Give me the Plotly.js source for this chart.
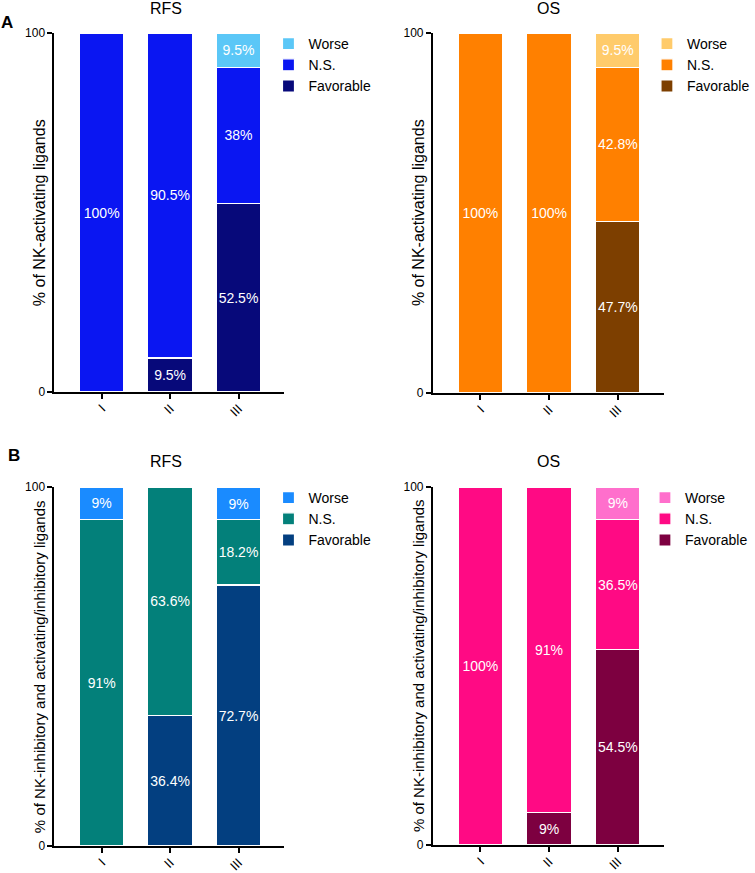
<!DOCTYPE html>
<html>
<head>
<meta charset="utf-8">
<script src="https://cdn.plot.ly/plotly-3.0.1.min.js"></script>
<style>html,body{margin:0;padding:0;background:#fff;}#chart{width:755px;height:873px;}</style>
</head>
<body>
<div id="chart"></div>
<script>
// ---- data ----
const categories = ['I', 'II', 'III'];
const seriesNames = ['Favorable', 'N.S.', 'Worse'];

const aRfsFavorable = [0, 9.5, 52.5];
const aRfsNS        = [100, 90.5, 38];
const aRfsWorse     = [0, 0, 9.5];

const aOsFavorable  = [0, 0, 47.7];
const aOsNS         = [100, 100, 42.8];
const aOsWorse      = [0, 0, 9.5];

const bRfsFavorable = [0, 36.4, 72.7];
const bRfsNS        = [91, 63.6, 18.2];
const bRfsWorse     = [9, 0, 9];

const bOsFavorable  = [0, 9, 54.5];
const bOsNS         = [100, 91, 36.5];
const bOsWorse      = [0, 0, 9];

const panelTitles = ['RFS', 'OS', 'RFS', 'OS'];
const yTitleA = '% of NK-activating ligands';
const yTitleB = '% of NK-inhibitory and activating/inhibitory ligands';

// ---- styling ----
const W = 755, H = 873;
const FONT = 'Liberation Sans, Arial, Helvetica, sans-serif';
const colorsARfs = ['#07097A', '#0A16F2', '#5BC7F7'];
const colorsAOs  = ['#7D3F00', '#FF8000', '#FFCB6B'];
const colorsBRfs = ['#033F80', '#03807A', '#1A8BFF'];
const colorsBOs  = ['#7D0040', '#FF0A84', '#FF6FCC'];

// pixel boxes for the four plot areas [x0, x1, y0(top), y1(bottom)]
const boxes = [
  [55, 287, 33, 392],
  [437, 670, 33, 393],
  [55, 287, 487, 846],
  [437, 670, 487, 845]
];
const fx = p => p / W;
const fy = p => 1 - p / H;

function fmt(v) { return v > 0 ? v + '%' : ''; }

const panels = [
  {vals: [aRfsFavorable, aRfsNS, aRfsWorse], colors: colorsARfs},
  {vals: [aOsFavorable, aOsNS, aOsWorse], colors: colorsAOs},
  {vals: [bRfsFavorable, bRfsNS, bRfsWorse], colors: colorsBRfs},
  {vals: [bOsFavorable, bOsNS, bOsWorse], colors: colorsBOs}
];

const traces = [];
panels.forEach((p, i) => {
  const suffix = i === 0 ? '' : String(i + 1);
  p.vals.forEach((v, j) => {
    traces.push({
      type: 'bar',
      x: categories,
      y: v,
      name: seriesNames[j],
      xaxis: 'x' + suffix,
      yaxis: 'y' + suffix,
      legend: 'legend' + suffix,
      marker: {color: p.colors[j], line: {color: '#ffffff', width: 1.2}},
      text: v.map(fmt),
      textposition: 'inside',
      insidetextanchor: 'middle',
      textangle: 0,
      constraintext: 'none',
      insidetextfont: {color: '#ffffff', size: 14, family: FONT},
      hoverinfo: 'skip'
    });
  });
});

const layout = {
  width: W, height: H,
  margin: {l: 0, r: 0, t: 0, b: 0},
  paper_bgcolor: '#ffffff',
  plot_bgcolor: '#ffffff',
  barmode: 'stack',
  bargap: 0.35,
  font: {family: FONT, color: '#000000'},
  annotations: []
};

const legendX = [271, 653, 271, 651];
const legendY = [28, 28, 482, 482];

boxes.forEach((b, i) => {
  const suffix = i === 0 ? '' : String(i + 1);
  layout['xaxis' + suffix] = {
    domain: [fx(b[0]), fx(b[1])],
    anchor: 'y' + suffix,
    range: [-0.69, 2.67],
    showline: true, linecolor: '#000', linewidth: 2,
    ticks: 'outside', ticklen: 5, tickwidth: 2, tickcolor: '#000',
    tickangle: -45,
    ticklabelstandoff: -3,
    tickfont: {size: 13, family: FONT, color: '#000'},
    showgrid: false, zeroline: false, fixedrange: true
  };
  layout['yaxis' + suffix] = {
    domain: [fy(b[3]), fy(b[2])],
    anchor: 'x' + suffix,
    range: [0, 100],
    tickvals: [0, 100],
    ticktext: ['0', '100'],
    showline: true, linecolor: '#000', linewidth: 2,
    ticks: 'outside', ticklen: 5, tickwidth: 2, tickcolor: '#000',
    tickfont: {size: 12, family: FONT, color: '#000'},
    showgrid: false, zeroline: false, fixedrange: true
  };
  layout['legend' + suffix] = {
    x: fx(legendX[i]), xanchor: 'left',
    y: fy(legendY[i]), yanchor: 'top',
    traceorder: 'reversed',
    font: {size: 14, family: FONT, color: '#000'},
    bgcolor: 'rgba(0,0,0,0)',
    itemwidth: 30,
    tracegroupgap: 0
  };
  // panel title
  layout.annotations.push({
    text: panelTitles[i], xref: 'paper', yref: 'paper',
    x: fx((b[0] + b[1]) / 2 + (i % 2 === 0 ? -3 : 0)), y: fy(b[2] - (i < 2 ? 24 : 26)),
    xanchor: 'center', yanchor: 'middle', showarrow: false,
    font: {size: 16, family: FONT, color: '#000'}
  });
  // y-axis title
  layout.annotations.push({
    text: i < 2 ? yTitleA : yTitleB, xref: 'paper', yref: 'paper',
    x: fx(b[0] - 15), y: fy((b[2] + b[3]) / 2),
    xanchor: 'center', yanchor: 'middle', showarrow: false, textangle: -90,
    font: {size: i < 2 ? 16 : 15, family: FONT, color: '#000'}
  });
});

// panel letters
layout.annotations.push({text: '<b>A</b>', xref: 'paper', yref: 'paper', x: fx(7), y: fy(22),
  xanchor: 'center', yanchor: 'middle', showarrow: false, font: {size: 17, family: FONT, color: '#000'}});
layout.annotations.push({text: '<b>B</b>', xref: 'paper', yref: 'paper', x: fx(14), y: fy(455),
  xanchor: 'center', yanchor: 'middle', showarrow: false, font: {size: 17, family: FONT, color: '#000'}});

Plotly.newPlot('chart', traces, layout, {displayModeBar: false, staticPlot: true});
</script>
</body>
</html>
